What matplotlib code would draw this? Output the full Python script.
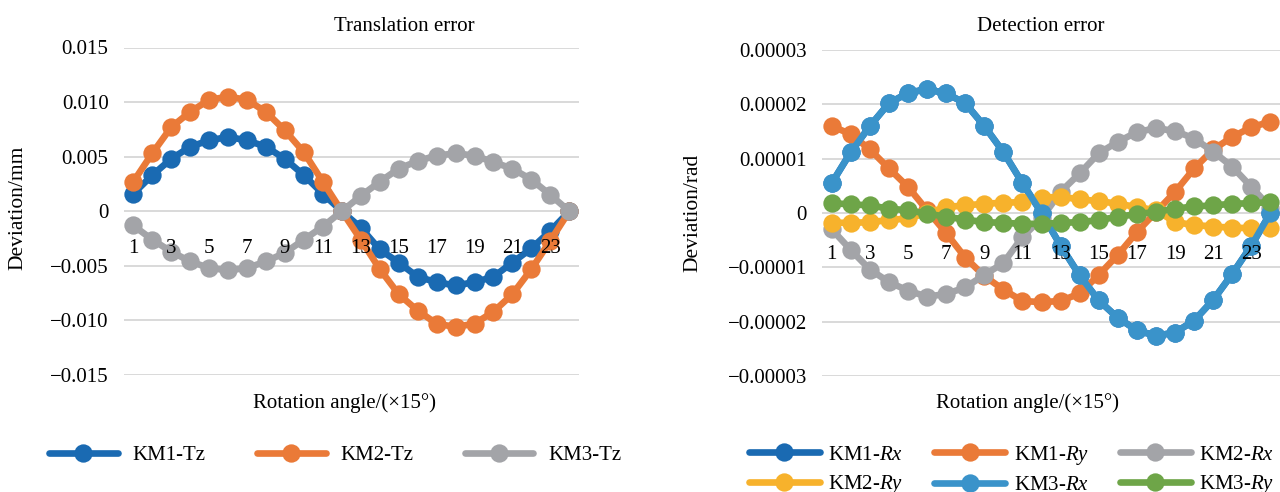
import numpy as np
import matplotlib
matplotlib.use("Agg")
import matplotlib.pyplot as plt

plt.rcParams['font.family'] = ['Liberation Serif', 'DejaVu Serif']
plt.rcParams['mathtext.fontset'] = 'custom'
plt.rcParams['mathtext.rm'] = 'Liberation Serif'
plt.rcParams['mathtext.it'] = 'Liberation Serif:italic'
plt.rcParams['axes.unicode_minus'] = True

# ---------------- data ----------------
angles = list(range(1, 25))
xtick_labels = [1, 3, 5, 7, 9, 11, 13, 15, 17, 19, 21, 23]

km1_tz = [0.0016, 0.0033, 0.0048, 0.0059, 0.0065, 0.0068, 0.0065, 0.0059, 0.0048, 0.0033, 0.0016, 0.0,
          -0.0015, -0.0035, -0.0047, -0.0060, -0.0065, -0.0068, -0.0065, -0.0060, -0.0047, -0.0034, -0.0018, 0.0]
km2_tz = [0.0027, 0.0053, 0.0077, 0.0091, 0.0102, 0.0105, 0.0102, 0.0091, 0.0074, 0.0054, 0.0027, 0.0,
          -0.0026, -0.0053, -0.0076, -0.0091, -0.0103, -0.0106, -0.0103, -0.0092, -0.0076, -0.0053, -0.0027, 0.0]
km3_tz = [-0.0013, -0.0026, -0.0037, -0.0046, -0.0052, -0.0054, -0.0052, -0.0046, -0.0038, -0.0026, -0.0014, 0.0,
          0.0014, 0.0027, 0.0039, 0.0046, 0.0051, 0.0053, 0.0051, 0.0045, 0.0039, 0.0029, 0.0015, 0.0]

km1_rx = [0.55e-5, 1.12e-5, 1.60e-5, 2.02e-5, 2.21e-5, 2.28e-5, 2.20e-5, 2.02e-5, 1.60e-5, 1.12e-5, 0.55e-5, 0.0,
          -0.60e-5, -1.15e-5, -1.61e-5, -1.93e-5, -2.16e-5, -2.26e-5, -2.20e-5, -1.98e-5, -1.60e-5, -1.12e-5, -0.60e-5, 0.0]
km1_ry = [1.60e-5, 1.45e-5, 1.17e-5, 0.82e-5, 0.48e-5, 0.05e-5, -0.37e-5, -0.82e-5, -1.16e-5, -1.41e-5, -1.62e-5, -1.64e-5,
          -1.62e-5, -1.48e-5, -1.14e-5, -0.77e-5, -0.35e-5, 0.02e-5, 0.39e-5, 0.82e-5, 1.17e-5, 1.40e-5, 1.58e-5, 1.68e-5]
km2_rx = [-0.30e-5, -0.68e-5, -1.04e-5, -1.27e-5, -1.43e-5, -1.54e-5, -1.49e-5, -1.37e-5, -1.14e-5, -0.92e-5, -0.44e-5, -0.10e-5,
          0.39e-5, 0.73e-5, 1.10e-5, 1.31e-5, 1.49e-5, 1.56e-5, 1.51e-5, 1.37e-5, 1.13e-5, 0.85e-5, 0.48e-5, 0.10e-5]
km2_ry = [-0.18e-5, -0.18e-5, -0.17e-5, -0.13e-5, -0.10e-5, 0.0, 0.11e-5, 0.14e-5, 0.17e-5, 0.19e-5, 0.20e-5, 0.28e-5,
          0.30e-5, 0.25e-5, 0.22e-5, 0.17e-5, 0.11e-5, 0.05e-5, -0.17e-5, -0.22e-5, -0.25e-5, -0.27e-5, -0.28e-5, -0.28e-5]
km3_rx = [0.55e-5, 1.12e-5, 1.60e-5, 2.02e-5, 2.21e-5, 2.28e-5, 2.20e-5, 2.02e-5, 1.60e-5, 1.12e-5, 0.55e-5, 0.0,
          -0.60e-5, -1.15e-5, -1.61e-5, -1.93e-5, -2.16e-5, -2.26e-5, -2.20e-5, -1.98e-5, -1.60e-5, -1.12e-5, -0.60e-5, 0.0]
km3_ry = [0.18e-5, 0.16e-5, 0.14e-5, 0.08e-5, 0.05e-5, -0.01e-5, -0.07e-5, -0.12e-5, -0.17e-5, -0.18e-5, -0.20e-5, -0.20e-5,
          -0.18e-5, -0.17e-5, -0.13e-5, -0.07e-5, -0.02e-5, 0.02e-5, 0.08e-5, 0.12e-5, 0.14e-5, 0.17e-5, 0.18e-5, 0.20e-5]

left_yticks = [-0.015, -0.010, -0.005, 0.0, 0.005, 0.010, 0.015]
left_ylabels = ['\u22120.015', '\u22120.010', '\u22120.005', '0', '0.005', '0.010', '0.015']
right_yticks = [-3e-5, -2e-5, -1e-5, 0.0, 1e-5, 2e-5, 3e-5]
right_ylabels = ['\u22120.00003', '\u22120.00002', '\u22120.00001', '0', '0.00001', '0.00002', '0.00003']

# ---------------- style ----------------
C_BLUE = '#1A6AB2'
C_ORANGE = '#EA7A38'
C_GRAY = '#A3A4A8'
C_YELLOW = '#F7B22C'
C_LBLUE = '#3A93CA'
C_GREEN = '#6EA548'
GRID = '#D9D9D9'
FS = 15
LW = 4.8
MS = 13.2

W, H = 1280, 492
fig = plt.figure(figsize=(W / 100, H / 100), dpi=100)


def px_axes(x0, x1, ytop, ybot):
    return fig.add_axes([x0 / W, (H - ybot) / H, (x1 - x0) / W, (ybot - ytop) / H])


def style_axes(ax, yticks, ylabels, lim, xpad):
    ax.set_xlim(0.5, 24.5)
    ax.set_ylim(-lim, lim)
    for y in yticks:
        ax.axhline(y, color=GRID, lw=1.4, zorder=0.5)
    for s in ax.spines.values():
        s.set_visible(False)
    ax.spines['bottom'].set_position(('data', 0))
    ax.set_yticks(yticks)
    ax.set_yticklabels(ylabels)
    ax.set_xticks(xtick_labels)
    ax.set_xticklabels([str(v) for v in xtick_labels])
    ax.tick_params(axis='y', length=0, pad=11, labelsize=FS)
    ax.tick_params(axis='x', length=0, pad=xpad, labelsize=FS)
    ax.xaxis.set_zorder(5)
    ax.patch.set_visible(False)


def line(ax, y, color, label):
    return ax.plot(angles, y, color=color, lw=LW, marker='o', ms=MS,
                   mec=color, mfc=color, mew=0, label=label, solid_capstyle='round')[0]


# ---------------- left chart ----------------
ax1 = px_axes(123.8, 578.8, 47.5, 375.0)
style_axes(ax1, left_yticks, left_ylabels, 0.015, 20)
h1 = line(ax1, km1_tz, C_BLUE, 'KM1-Tz')
h2 = line(ax1, km2_tz, C_ORANGE, 'KM2-Tz')
h3 = line(ax1, km3_tz, C_GRAY, 'KM3-Tz')
ax1.text(0.616, 1.0656, 'Translation error', transform=ax1.transAxes,
         ha='center', va='center', fontsize=FS)
ax1.set_xlabel('Rotation angle/(\u00d715\u00b0)', fontsize=FS)
ax1.xaxis.label.set_va('center')
ax1.xaxis.set_label_coords(0.484, -0.0855)
ax1.set_ylabel('Deviation/mm', fontsize=15.5)
ax1.yaxis.label.set_va('center')
ax1.yaxis.set_label_coords(-0.2325, 0.51)

fig.legend(handles=[h1, h2, h3], loc='center left',
           bbox_to_anchor=(49 / W, (H - 455) / H), ncol=3, frameon=False,
           fontsize=FS, handlelength=3.3, handletextpad=0.72, columnspacing=2.45,
           borderpad=0, borderaxespad=0, numpoints=1)

# ---------------- right chart ----------------
ax2 = px_axes(822.2, 1280.0, 50.0, 376.0)
style_axes(ax2, right_yticks, right_ylabels, 3e-5, 23)
g1 = line(ax2, km1_rx, C_BLUE, 'KM1-$\\mathit{Rx}$')
g2 = line(ax2, km1_ry, C_ORANGE, 'KM1-$\\mathit{Ry}$')
g3 = line(ax2, km2_rx, C_GRAY, 'KM2-$\\mathit{Rx}$')
g4 = line(ax2, km2_ry, C_YELLOW, 'KM2-$\\mathit{Ry}$')
g5 = line(ax2, km3_rx, C_LBLUE, 'KM3-$\\mathit{Rx}$')
g6 = line(ax2, km3_ry, C_GREEN, 'KM3-$\\mathit{Ry}$')
ax2.text(0.478, 1.0736, 'Detection error', transform=ax2.transAxes,
         ha='center', va='center', fontsize=FS)
ax2.set_xlabel('Rotation angle/(\u00d715\u00b0)', fontsize=FS)
ax2.xaxis.label.set_va('center')
ax2.xaxis.set_label_coords((1028 - 822.2) / 457.8, -0.0828)
ax2.set_ylabel('Deviation/rad', fontsize=15.5)
ax2.yaxis.label.set_va('center')
ax2.yaxis.set_label_coords((693 - 822.2) / 457.8, 0.50)

fig.legend(handles=[g1, g4, g2, g5, g3, g6], loc='center left',
           bbox_to_anchor=(749 / W, (H - 470) / H), ncol=3, frameon=False,
           fontsize=FS, handlelength=3.4, handletextpad=0.4, columnspacing=1.5,
           labelspacing=0.42, borderpad=0, borderaxespad=0, numpoints=1)

fig.savefig('out.png', dpi=100)
